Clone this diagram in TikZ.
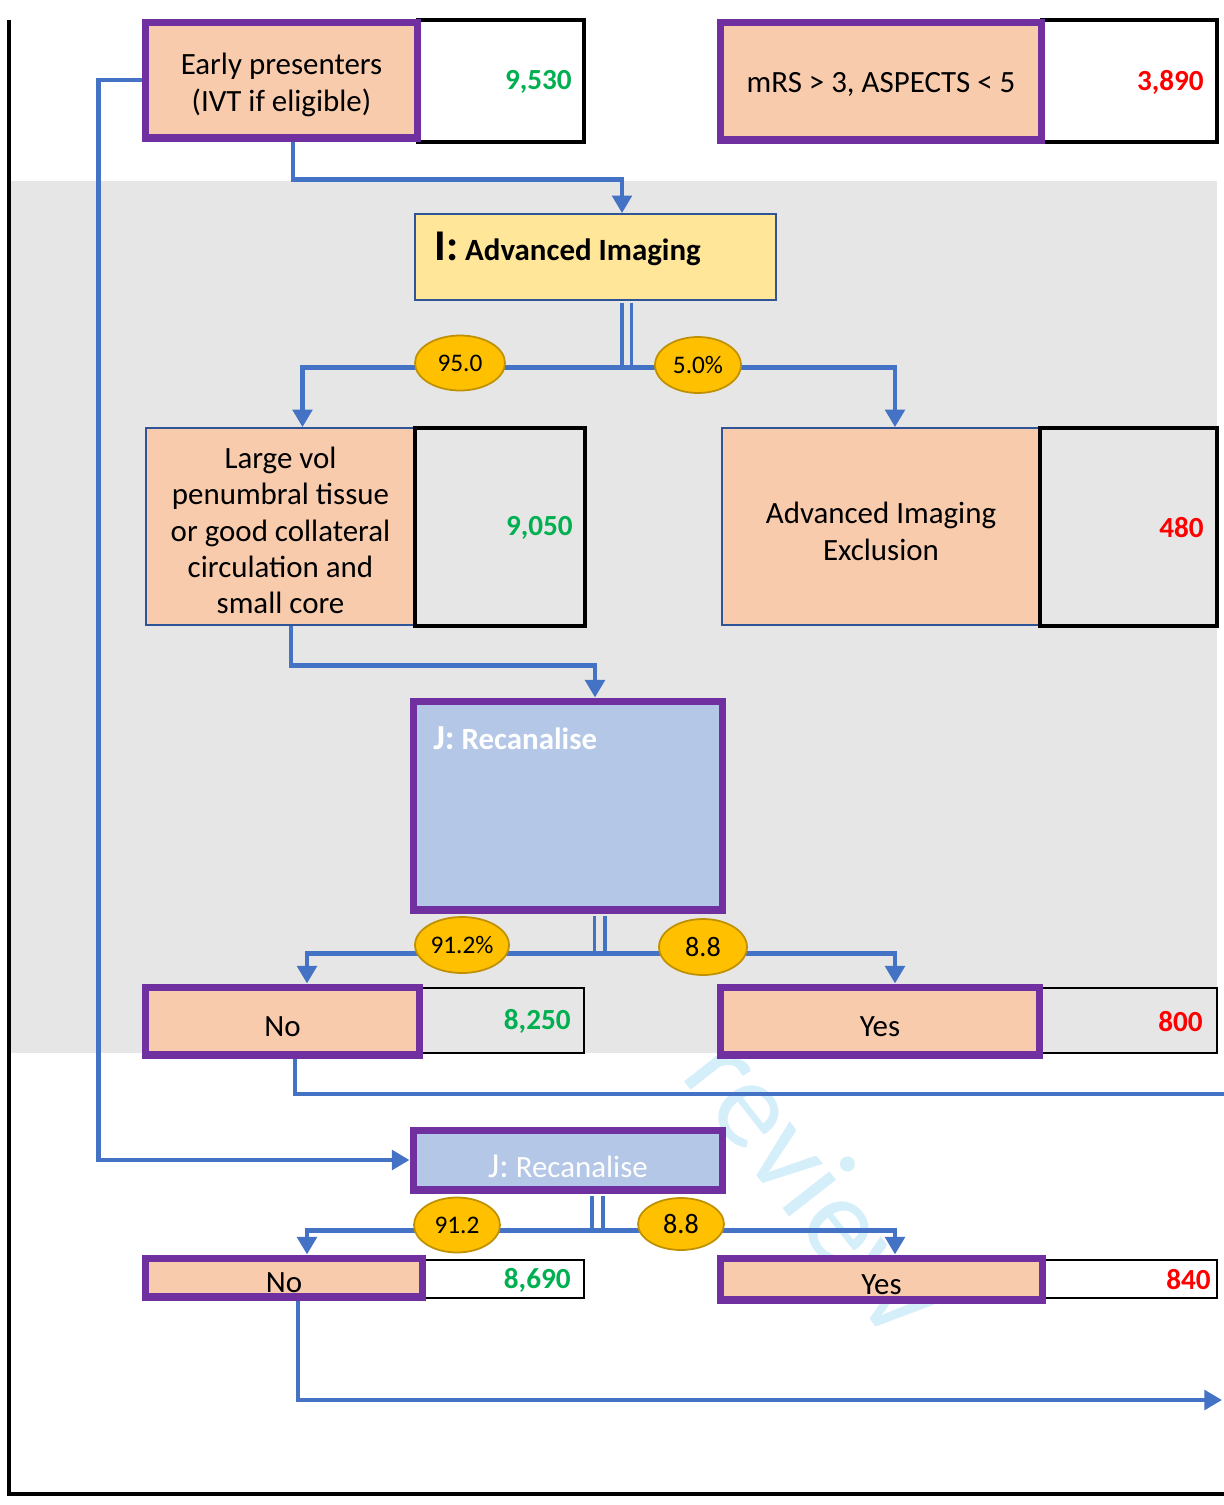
\documentclass[tikz,border=0pt]{standalone}
\usepackage{fontspec}
\setmainfont{Carlito}
\usetikzlibrary{arrows.meta, positioning, calc, shapes.geometric}

\definecolor{peach}{HTML}{F8CBAD}
\definecolor{lilac}{HTML}{7030A0}
\definecolor{flowblue}{HTML}{4472C4}
\definecolor{recblue}{HTML}{B4C7E7}
\definecolor{imgyellow}{HTML}{FFE699}
\definecolor{edgeblue}{HTML}{2F5597}
\definecolor{pillgold}{HTML}{FFC000}
\definecolor{pilledge}{HTML}{BF9000}
\definecolor{bandgray}{HTML}{E6E6E6}
\definecolor{okgreen}{HTML}{00B050}
\definecolor{markcyan}{HTML}{D4EEFA}

\newcommand\txtsize{\fontsize{17.6}{20.7}\selectfont}
\newcommand\pillsize{\fontsize{14.4}{17}\selectfont}
\newcommand\toppad[1][17.5pt]{\rule{0pt}{#1}} % pushes a box text a little down

\begin{document}
\begin{tikzpicture}[
	x = 0.02cm, y = -0.02cm, % one unit = one pixel of the sketch
	> = {Triangle[width=11pt, length=10pt]}, % arrow head style
	font = \txtsize
	]
	
	\tikzstyle{stage}=[draw = lilac, line width = 4pt, fill = peach, inner sep = 0pt, align = center]
	\tikzstyle{plainbox}=[draw = edgeblue, line width = 1pt, fill = peach, inner sep = 0pt, align = center]
	\tikzstyle{tally}=[draw = black, line width = 2.3pt, inner sep = 0pt]
	\tikzstyle{thintally}=[draw = black, line width = 1.1pt, inner sep = 0pt]
	\tikzstyle{num}=[font = \bfseries\fontsize{16.6}{20}\selectfont, anchor = east, inner sep = 0pt]
	\tikzstyle{pill}=[ellipse, draw = pilledge, line width = 1pt, fill = pillgold, inner sep = 0pt, font = \pillsize]
	\tikzstyle{flow}=[draw = flowblue, line width = 2.8pt]
	\tikzstyle{twin}=[draw = flowblue, line width = 2pt]
	
	\useasboundingbox (0,0) rectangle (1224,1505);
	
	% watermark, behind the band
	\node[rotate = -52, text = markcyan, font = \fontsize{71}{78}\selectfont] (mark) at (817,1183) {review};
	
	\fill[bandgray] (10,181) rectangle (1217,1053);
	\draw[line width = 1.8pt] (9,20) -- (9,1494) -- (1224,1494);
	
	% top row
	\node[tally, fill = white, minimum width = 3.32cm, minimum height = 2.44cm] (earlyv) at (501,81) {};
	\node[stage, minimum width = 5.46cm, minimum height = 2.32cm] (early) at (281.5,80) {\toppad[17.9pt]Early presenters\\(IVT if eligible)};
	\node[tally, fill = white, minimum width = 3.5cm, minimum height = 2.44cm] (mrsv) at (1129.5,81) {};
	\node[stage, minimum width = 6.44cm, minimum height = 2.36cm] (mrs) at (881,81) {\toppad[15pt]mRS > 3, ASPECTS < 5};
	\node[num, text = okgreen] (n9530) at ($(earlyv.east)+(-14,1)$) {9,530};
	\node[num, text = red] (n3890) at ($(mrsv.east)+(-15,1)$) {3,890};
	
	% advanced imaging
	\node[draw = edgeblue, line width = 1pt, fill = imgyellow, inner sep = 0pt, minimum width = 7.22cm, minimum height = 1.72cm] (iimg) at (595.5,257) {};
	\node[anchor = base west, inner sep = 0pt, font = \bfseries\txtsize] (ititle) at (434,260) {{\fontsize{25}{29}\selectfont I:} Advanced Imaging};
	
	\node[plainbox, minimum width = 5.38cm, minimum height = 3.94cm] (large) at (280.5,526.5) {\toppad[16.9pt]Large vol\\penumbral tissue\\or good collateral\\circulation and\\small core};
	\node[tally, minimum width = 3.4cm, minimum height = 3.96cm] (largev) at (500,527) {};
	\node[plainbox, minimum width = 6.36cm, minimum height = 3.94cm] (excl) at (881,526.5) {\toppad[17.9pt]Advanced Imaging\\Exclusion};
	\node[tally, minimum width = 3.54cm, minimum height = 3.96cm] (exclv) at (1128.5,527) {};
	\node[num, text = okgreen] (n9050) at ($(largev.east)+(-14,1)$) {9,050};
	\node[num, text = red] (n480) at ($(exclv.east)+(-15,1)$) {480};
	
	% recanalise
	\node[stage, fill = recblue, minimum width = 6.2cm, minimum height = 4.18cm] (jrec) at (568,805.5) {};
	\node[anchor = base west, inner sep = 0pt, text = white, font = \bfseries\txtsize] (jtitle) at (433,749) {{\fontsize{20}{24}\selectfont J:} Recanalise};
	
	\node[thintally, minimum width = 3.28cm, minimum height = 1.3cm] (no1v) at (502,1020.5) {};
	\node[stage, minimum width = 5.5cm, minimum height = 1.36cm] (no1) at (282.5,1021) {\toppad No};
	\node[thintally, minimum width = 3.54cm, minimum height = 1.3cm] (yes1v) at (1128.5,1020.5) {};
	\node[stage, minimum width = 6.4cm, minimum height = 1.36cm] (yes1) at (880,1021) {\toppad Yes};
	\node[num, text = okgreen] (n8250) at ($(no1v.east)+(-14,1)$) {8,250};
	\node[num, text = red] (n800) at ($(yes1v.east)+(-15,1)$) {800};
	
	% second recanalise
	\node[stage, fill = recblue, text = white, minimum width = 6.2cm, minimum height = 1.2cm] (jrec2) at (568,1160) {\toppad[19.5pt]{\fontsize{20}{24}\selectfont J:} Recanalise};
	
	\node[thintally, fill = white, minimum width = 3.22cm, minimum height = 0.76cm] (no2v) at (503.5,1279) {};
	\node[stage, minimum width = 5.56cm, minimum height = 0.78cm] (no2) at (284,1277.5) {\toppad No};
	\node[thintally, fill = white, minimum width = 3.48cm, minimum height = 0.76cm] (yes2v) at (1130,1279) {};
	\node[stage, minimum width = 6.46cm, minimum height = 0.84cm] (yes2) at (881.5,1279) {\toppad[18pt]Yes};
	\node[num, text = okgreen] (n8690) at ($(no2v.east)+(-14,1)$) {8,690};
	\node[num, text = red] (n840) at ($(yes2v.east)+(-7,1)$) {840};
	
	% connectors
	\draw[flow, ->] ($(early.south)+(11.5,0)$) -- ++(0,38) -| ($(iimg.north)+(26.5,0)$);
	\draw[flow, ->] (early.west) -- ++(-43,0) |- (jrec2.west);
	
	\draw[twin] ($(iimg.south)+(26.5,2)$) -- ++(0,66);
	\draw[twin] ($(iimg.south)+(36,2)$) -- ++(0,66);
	\draw[flow, <->] ($(large.north)+(22,0)$) |- ($(iimg.south)+(36,67)$) -| ($(excl.north)+(14,0)$);
	
	\draw[flow, ->] ($(large.south)+(10.5,0)$) -- ++(0,40) -| ($(jrec.north)+(27,0)$);
	
	\draw[twin] ($(jrec.south)+(26.5,2)$) -- ++(0,38);
	\draw[twin] ($(jrec.south)+(37,2)$) -- ++(0,38);
	\draw[flow, <->] ($(no1.north)+(24.5,0)$) |- ($(jrec.south)+(37,40)$) -| ($(yes1.north)+(15,0)$);
	
	\coordinate (outa) at (1224,1094);
	\draw[flow] ($(no1.south)+(12.5,0)$) |- (outa);
	
	\draw[twin] ($(jrec2.south)+(24,2)$) -- ++(0,35);
	\draw[twin] ($(jrec2.south)+(35,2)$) -- ++(0,35);
	\draw[flow, <->] ($(no2.north)+(23,0)$) |- ($(jrec2.south)+(35,37)$) -| ($(yes2.north)+(13.5,0)$);
	
	\coordinate (outb) at (1222,1400);
	\draw[flow, ->] ($(no2.south)+(14,0)$) |- (outb);
	
	% shares
	\node[pill, minimum width = 1.8cm, minimum height = 1.1cm] (p950) at (460,363) {95.0};
	\node[pill, minimum width = 1.72cm, minimum height = 1.12cm] (p50) at (698,365) {5.0\%};
	\node[pill, minimum width = 1.88cm, minimum height = 1.12cm] (p912) at (462,945) {91.2\%};
	\node[pill, minimum width = 1.76cm, minimum height = 1.12cm, font = \fontsize{16}{19}\selectfont] (p88) at (703,947) {8.8};
	\node[pill, minimum width = 1.72cm, minimum height = 1.1cm] (p912b) at (457,1225) {91.2};
	\node[pill, minimum width = 1.72cm, minimum height = 1.04cm, font = \fontsize{16}{19}\selectfont] (p88b) at (681,1224) {8.8};
	
\end{tikzpicture}
\end{document}
